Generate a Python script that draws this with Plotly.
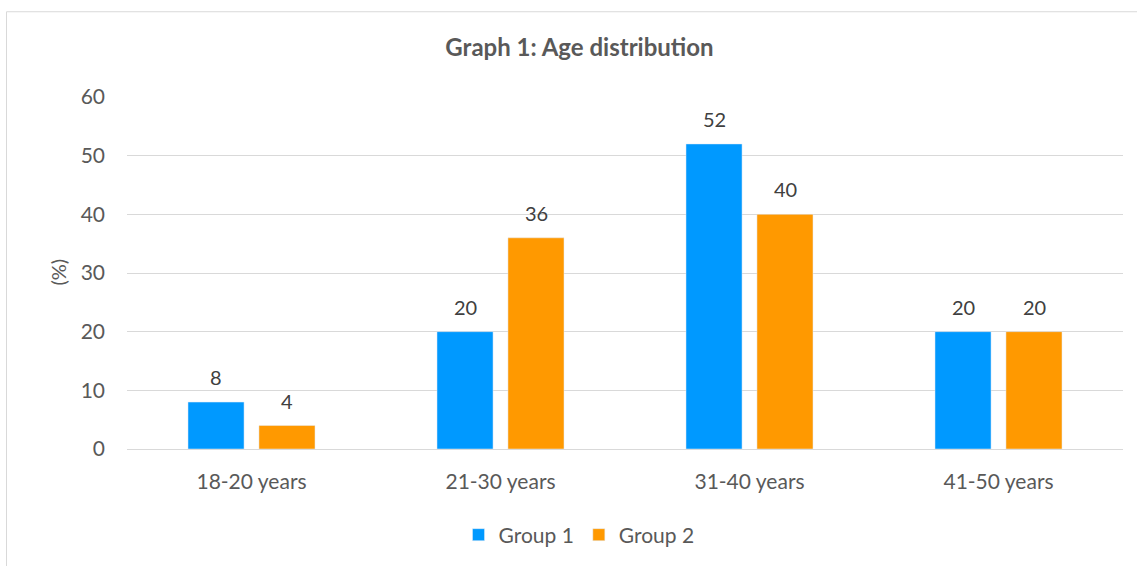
import plotly.graph_objects as go

categories = ["18-20 years", "21-30 years", "31-40 years", "41-50 years"]
group1 = [8, 20, 52, 20]
group2 = [4, 36, 40, 20]
series_names = ["Group 1", "Group 2"]
y_ticks = [0, 10, 20, 30, 40, 50, 60]

W, H = 1137, 566
L, R, T, B = 127, 14, 97, 116
pw, ph = W - L - R, H - T - B

def px_x(p):
    return (p - L) / pw

def px_y(p):
    return (H - B - p) / ph

FONT = "Lato, Carlito, Open Sans, sans-serif"
BLUE = "#0099FF"
ORANGE = "#FF9900"
TXT = "#595959"

fig = go.Figure()
fig.add_trace(go.Bar(x=categories, y=group1, name=series_names[0], marker_color=BLUE))
fig.add_trace(go.Bar(x=categories, y=group2, name=series_names[1], marker_color=ORANGE))

annotations = []
for vals, shift in ((group1, -35.5), (group2, 35.5)):
    for c, v in zip(categories, vals):
        annotations.append(dict(x=c, y=v, xref="x", yref="y", text=str(v), showarrow=False,
                                xshift=shift, yshift=25, font=dict(family=FONT, size=20, color="#404040")))

annotations.append(dict(x=px_x(58), y=px_y(273), xref="paper", yref="paper", text="(%)", textangle=-90,
                        xanchor="center", yanchor="middle",
                        showarrow=False, font=dict(family=FONT, size=20, color=TXT)))

fig.update_layout(
    width=W, height=H,
    margin=dict(l=L, r=R, t=T, b=B),
    paper_bgcolor="white", plot_bgcolor="white",
    barmode="group", bargap=0.43, bargroupgap=0.21,
    title=dict(text="<b>Graph 1: Age distribution</b>", x=px_x(579.5), xref="paper", xanchor="center",
               y=1 - 48 / H, yref="container", yanchor="middle",
               font=dict(family=FONT, size=24, color=TXT)),
    xaxis=dict(showgrid=False, showline=False, ticks="", ticklabelstandoff=18,
               tickfont=dict(family=FONT, size=21, color=TXT)),
    yaxis=dict(range=[0, 60], tickvals=y_ticks, showgrid=True, gridcolor="#D9D9D9", gridwidth=1,
               zeroline=True, zerolinecolor="#D9D9D9", zerolinewidth=1, ticks="",
               ticklabelstandoff=21,
               tickfont=dict(family=FONT, size=21, color=TXT)),
    showlegend=True,
    legend=dict(orientation="h", x=px_x(579), xanchor="center", y=px_y(535), yanchor="middle",
                font=dict(family=FONT, size=21, color=TXT), itemwidth=30, traceorder="normal"),
    annotations=annotations,
    shapes=[dict(type="rect", xref="paper", yref="paper", x0=px_x(6.5), x1=px_x(1150),
                 y0=px_y(11.5), y1=px_y(580), line=dict(color="#D9D9D9", width=1), layer="below")],
)

fig.write_html("out.html")
